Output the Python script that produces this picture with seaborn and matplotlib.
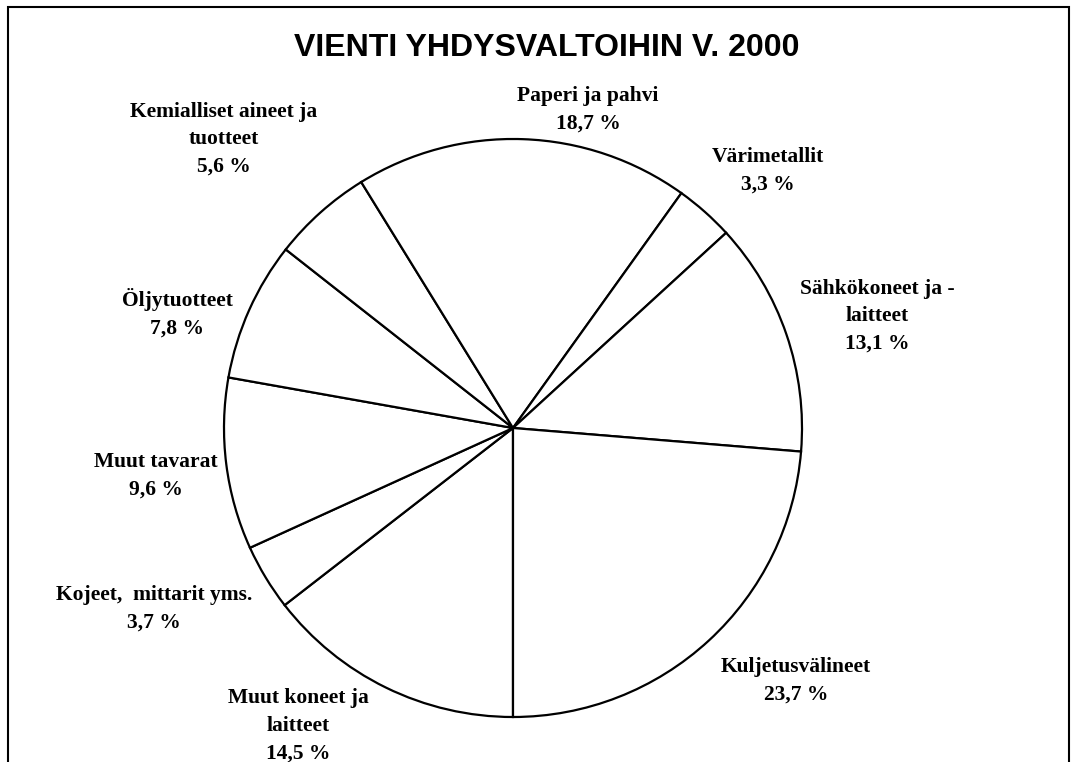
import matplotlib.pyplot as plt
import seaborn as sns
from matplotlib.patches import Rectangle

# slices in drawing order: clockwise, starting at 6 o'clock
categories = ['Muut koneet ja\nlaitteet', 'Kojeet,  mittarit yms.', 'Muut tavarat',
              'Öljytuotteet', 'Kemialliset aineet ja\ntuotteet', 'Paperi ja pahvi',
              'Värimetallit', 'Sähkökoneet ja -\nlaitteet', 'Kuljetusvälineet']
shares = [14.5, 3.7, 9.6, 7.8, 5.6, 18.7, 3.3, 13.1, 23.7]

# label centres in pixels (x, y from top)
label_px = [(298, 726), (154, 609), (156, 476), (177, 313), (224, 139),
            (588, 110), (768, 171), (877, 316), (796, 681)]

W, H = 1077, 762
cx, cy, r = 513, 428, 289

sns.set_theme(style='white')
plt.rcParams['font.family'] = ['Liberation Serif', 'DejaVu Serif']
plt.rcParams['text.color'] = 'black'

fig = plt.figure(figsize=(W / 100, H / 100), dpi=100)
ax = fig.add_axes([0, 0, 1, 1])
ax.pie(shares, startangle=270, counterclock=False, radius=1,
       colors=['white'] * len(shares),
       wedgeprops={'edgecolor': 'black', 'linewidth': 1.6})
ax.set_xlim(-cx / r, (W - cx) / r)
ax.set_ylim((cy - H) / r, cy / r)
ax.axis('off')

for name, val, (px, py) in zip(categories, shares, label_px):
    pct = f'{val:.1f}'.replace('.', ',')
    fig.text(px / W, 1 - py / H, f'{name}\n{pct} %', ha='center', va='center',
             fontsize=15.5, fontweight='bold', linespacing=1.5, color='black')

fig.text(547 / W, 1 - 48 / H, 'VIENTI YHDYSVALTOIHIN V. 2000',
         ha='center', va='center', fontsize=23, fontweight='bold',
         family=['Liberation Sans', 'DejaVu Sans'], color='black')

fig.patches.append(Rectangle((8 / W, -0.1), (1069 - 8) / W, 1.1 - 7 / H,
                             transform=fig.transFigure, fill=False,
                             edgecolor='black', linewidth=1.5, clip_on=False))

fig.savefig('out.png', dpi=100)
